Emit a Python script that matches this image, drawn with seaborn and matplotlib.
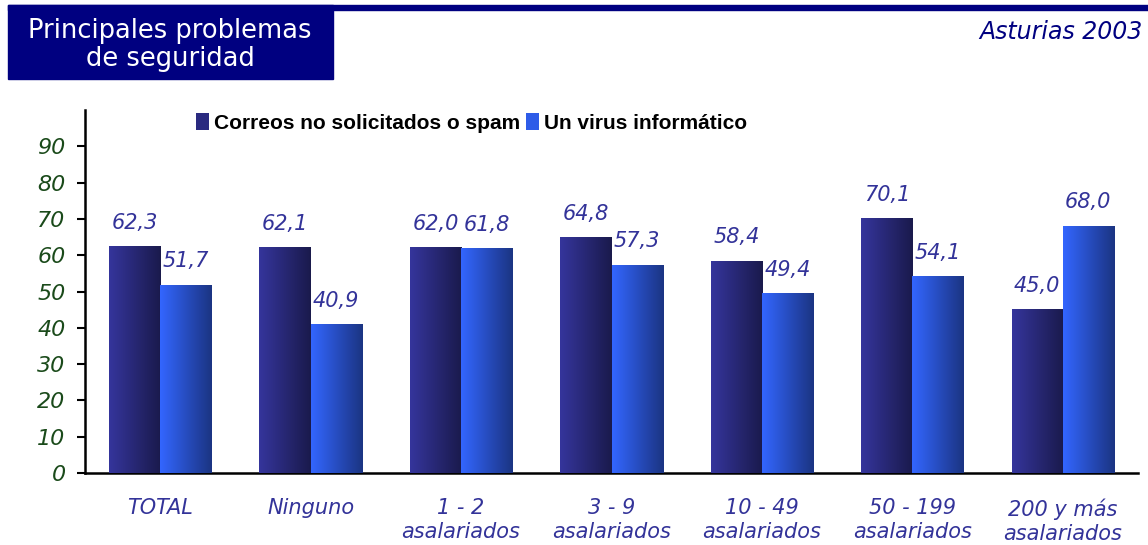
import numpy as np
import pandas as pd
import matplotlib
matplotlib.use("Agg")
import matplotlib.pyplot as plt
from matplotlib.colors import LinearSegmentedColormap
from matplotlib.patches import Rectangle
import seaborn as sns

# datos
categorias = ["TOTAL", "Ninguno", "1 - 2\nasalariados", "3 - 9\nasalariados",
              "10 - 49\nasalariados", "50 - 199\nasalariados", "200 y más\nasalariados"]
series = ["Correos no solicitados o spam", "Un virus informático"]
spam = [62.3, 62.1, 62.0, 64.8, 58.4, 70.1, 45.0]
virus = [51.7, 40.9, 61.8, 57.3, 49.4, 54.1, 68.0]
yticks = [0, 10, 20, 30, 40, 50, 60, 70, 80, 90]

df = pd.DataFrame({
    "categoria": categorias * 2,
    "serie": [series[0]] * len(spam) + [series[1]] * len(virus),
    "valor": spam + virus,
})

sns.set_style("white")
plt.rcParams["font.family"] = ["DejaVu Sans"]

fig = plt.figure(figsize=(11.48, 5.45), dpi=100)
ax = fig.add_axes([85 / 1148, 1 - 473 / 545, 1053 / 1148, 363 / 545])

sns.barplot(data=df, x="categoria", y="valor", hue="serie", order=categorias,
            hue_order=series, palette=["#2a2a80", "#2e5ce8"], saturation=1,
            width=0.68, linewidth=0, ax=ax)

# degradado horizontal en cada barra
gradientes = [("#35359c", "#1a1a4c"), ("#3366ff", "#1b3482")]
for cont, (c1, c2) in zip(ax.containers, gradientes):
    cmap = LinearSegmentedColormap.from_list("g", [c1, c2])
    for bar in cont:
        x0, w, h = bar.get_x(), bar.get_width(), bar.get_height()
        ax.imshow(np.linspace(0, 1, 128).reshape(1, -1), cmap=cmap, aspect="auto",
                  extent=[x0, x0 + w, 0, h], zorder=3, interpolation="bicubic")
    ax.bar_label(cont, labels=[f"{v:.1f}".replace(".", ",") for v in cont.datavalues],
                 padding=10, fontsize=15, fontstyle="italic", color="#333399", zorder=4)

ax.set_xlim(-0.5, len(categorias) - 0.5)
ax.set_ylim(0, 100)
ax.set_yticks(yticks)
ax.set_yticklabels([str(t) for t in yticks], fontsize=16, fontstyle="italic", color="#1a4a1a")
ax.set_xticks(range(len(categorias)))
ax.set_xticklabels(categorias, fontsize=15, fontstyle="italic", color="#333399",
                   linespacing=1.25)
ax.set_xticks(np.arange(-0.5, len(categorias)), minor=True)
ax.tick_params(axis="x", which="major", length=0, pad=18)
ax.tick_params(axis="x", which="minor", length=6, width=1.5, direction="out", color="black")
ax.tick_params(axis="y", length=6, width=1.5, direction="out", color="black", pad=8, left=True)
ax.set_xlabel("")
ax.set_ylabel("")
sns.despine(ax=ax, top=True, right=True)
for s in ["left", "bottom"]:
    ax.spines[s].set_linewidth(1.8)
    ax.spines[s].set_color("black")

leg = ax.legend(loc="center left", bbox_to_anchor=(0.088, 0.965), ncol=2, frameon=False,
                handlelength=0.6, handleheight=0.9, handletextpad=0.25, columnspacing=0.3,
                labelcolor="black",
                prop={"weight": "bold", "size": 15, "family": "Liberation Sans"})

# cabecera
fig.patches.append(Rectangle((8 / 1148, 1 - 79 / 545), 325 / 1148, 74 / 545,
                             transform=fig.transFigure, color="#000080", zorder=0))
fig.patches.append(Rectangle((8 / 1148, 1 - 10 / 545), 1140 / 1148, 5 / 545,
                             transform=fig.transFigure, color="#000080", zorder=0))
fig.text(170 / 1148, 1 - 45 / 545, "Principales problemas\nde seguridad", ha="center",
         va="center", color="white", fontsize=18.5, linespacing=1.1)
fig.text(1143 / 1148, 1 - 32 / 545, "Asturias 2003", ha="right", va="center",
         color="#000080", fontsize=17, fontstyle="italic")

fig.savefig("out.png", dpi=100)
